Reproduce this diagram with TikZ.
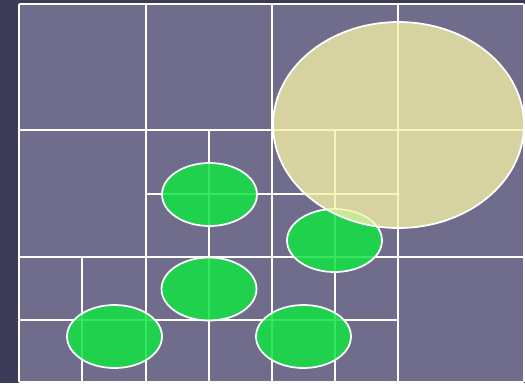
\documentclass[tikz,border=0pt]{standalone}
\usetikzlibrary{shapes.geometric}
\usepackage{xcolor}
\definecolor{stripfill}{RGB}{61,60,88}
\definecolor{panelfill}{RGB}{112,108,139}
\definecolor{blobgreen}{RGB}{18,227,67}
\definecolor{bigyellow}{RGB}{245,240,168}

\begin{document}
\begin{tikzpicture}[
      x=0.02cm, y=-0.02cm,
      grid/.style   = {draw=white, line width=1.3pt},
      blob/.style   = {ellipse, draw=white, line width=1pt,
                       fill=blobgreen, fill opacity=0.85,
                       inner sep=0pt, outer sep=0pt,
                       minimum width=1.9cm, minimum height=1.26cm},
      bigblob/.style = {blob, fill=bigyellow, fill opacity=0.78,
                       minimum width=5.02cm, minimum height=4.12cm}
    ]

    \useasboundingbox (0,0) rectangle (525,383);
    \fill[stripfill] (0,0) rectangle (525,383);
    \fill[panelfill] (19,4) rectangle (524,382);

    % level 0 cells
    \draw[grid] (19,4) -- (524,4);
    \draw[grid] (19,130) -- (524,130);
    \draw[grid] (19,257) -- (524,257);
    \draw[grid] (19,382) -- (524,382);
    \draw[grid] (19,4) -- (19,382);
    \draw[grid] (146,4) -- (146,382);
    \draw[grid] (272,4) -- (272,382);
    \draw[grid] (398,4) -- (398,382);
    \draw[grid] (524,4) -- (524,382);

    % split cells
    \draw[grid] (146,194) -- (398,194);
    \draw[grid] (19,320) -- (398,320);
    \draw[grid] (82,257) -- (82,382);
    \draw[grid] (209,130) -- (209,382);
    \draw[grid] (335,130) -- (335,382);

    \node[blob] (g1) at (209.5,194.5) {};
    \node[blob] (g2) at (334.5,240.5) {};
    \node[blob] (g3) at (209,289) {};
    \node[blob] (g4) at (114.5,336.5) {};
    \node[blob] (g5) at (303.5,336.5) {};

    \node[bigblob] (big) at (398.5,125) {};
  \end{tikzpicture}
\end{document}
